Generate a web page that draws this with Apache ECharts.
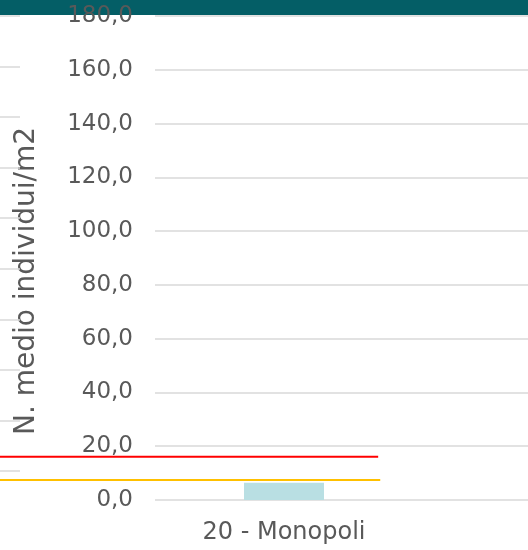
<!DOCTYPE html>
<html>
<head>
<meta charset="utf-8">
<script src="https://cdn.jsdelivr.net/npm/echarts@6/dist/echarts.min.js"></script>
<style>
  html, body { margin: 0; padding: 0; background: #fff; }
  #container { width: 528px; height: 550px; }
</style>
</head>
<body>
<div id="container"></div>
<script>
// data
var categories = ['20 - Monopoli', ''];
var densita = [6.4, null];
var sogliaRossa = 16.1;
var sogliaGialla = 7.4;
// x extent of the threshold lines, in category units (0 = left edge of the first band)
var spanRossa = [-0.7, 0.865];
var spanGialla = [-0.7, 0.873];
var yMin = 0, yMax = 180, yStep = 20;

var dom = document.getElementById('container');
var myChart = echarts.init(dom);

var textColor = '#595959';
var gridColor = '#d9d9d9';
var font = 'DejaVu Sans';
var bandPx = 258;   // width of one category band
var plotLeft = 155;

function fmt(v) {
    return v.toFixed(1).replace('.', ',');
}

var option = {
    animation: false,
    backgroundColor: '#fff',
    graphic: [
        {
            type: 'rect',
            z: -1,
            shape: { x: 0, y: 0, width: 528, height: 15 },
            style: { fill: '#045e66' }
        },
        {
            type: 'text',
            x: 27,
            y: 281,
            rotation: Math.PI / 2,
            style: {
                text: 'N. medio individui/m2',
                fill: textColor,
                font: '28px "DejaVu Sans"',
                align: 'center',
                verticalAlign: 'middle'
            }
        }
    ],
    grid: [
        { left: plotLeft, top: 16, width: 2 * bandPx, height: 484, outerBoundsMode: 'none' },
        // stubs of the neighbouring chart on the far left
        { left: -100, top: 16, width: 120, height: 455, outerBoundsMode: 'none' },
        // full-width overlay for the threshold lines
        { left: 0, top: 16, width: 528, height: 484, outerBoundsMode: 'none' }
    ],
    xAxis: [
        {
            type: 'category',
            gridIndex: 0,
            data: categories,
            axisLine: { show: false },
            axisTick: { show: false },
            axisLabel: { color: textColor, fontFamily: font, fontSize: 24, margin: 21 }
        },
        {
            type: 'value',
            gridIndex: 1,
            show: false
        },
        {
            type: 'value',
            gridIndex: 2,
            min: -plotLeft / bandPx,
            max: (528 - plotLeft) / bandPx,
            show: false
        }
    ],
    yAxis: [
        {
            type: 'value',
            gridIndex: 0,
            min: yMin,
            max: yMax,
            interval: yStep,
            axisLine: { show: false },
            axisTick: { show: false },
            splitLine: { lineStyle: { color: gridColor, width: 1.5 } },
            axisLabel: {
                color: textColor,
                fontFamily: font,
                fontSize: 23,
                margin: 22,
                formatter: fmt
            }
        },
        {
            type: 'value',
            gridIndex: 1,
            min: 0,
            max: 9,
            interval: 1,
            axisLine: { show: false },
            axisTick: { show: false },
            axisLabel: { show: false },
            splitLine: { lineStyle: { color: gridColor, width: 1.5 } }
        },
        {
            type: 'value',
            gridIndex: 2,
            min: yMin,
            max: yMax,
            show: false
        }
    ],
    series: [
        {
            name: 'densita',
            type: 'bar',
            xAxisIndex: 0,
            yAxisIndex: 0,
            data: densita,
            barWidth: 80,
            itemStyle: { color: '#b9dfe3' }
        },
        {
            name: 'soglia rossa',
            type: 'line',
            xAxisIndex: 2,
            yAxisIndex: 2,
            clip: false,
            symbol: 'none',
            data: [[spanRossa[0], sogliaRossa], [spanRossa[1], sogliaRossa]],
            lineStyle: { color: '#ff0000', width: 2 },
            z: 5
        },
        {
            name: 'soglia gialla',
            type: 'line',
            xAxisIndex: 2,
            yAxisIndex: 2,
            clip: false,
            symbol: 'none',
            data: [[spanGialla[0], sogliaGialla], [spanGialla[1], sogliaGialla]],
            lineStyle: { color: '#ffc000', width: 2 },
            z: 5
        }
    ]
};
myChart.setOption(option);
</script>
</body>
</html>
